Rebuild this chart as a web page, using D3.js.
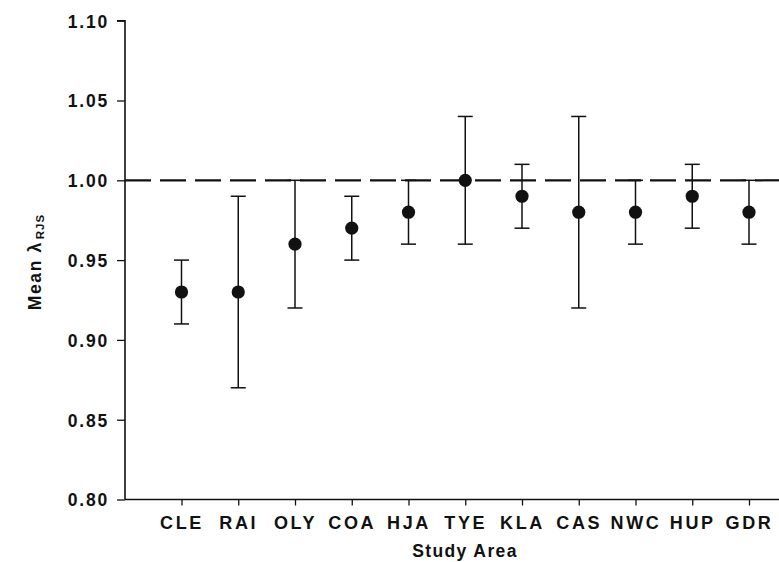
<!DOCTYPE html>
<html>
<head>
<meta charset="utf-8">
<script src="https://cdn.jsdelivr.net/npm/d3@7/dist/d3.min.js"></script>
<style>
  html, body { margin: 0; padding: 0; background: #fff; }
  svg { display: block; }
  text { font-family: "Liberation Sans", Arial, sans-serif; font-weight: bold; fill: #111; }
</style>
</head>
<body>
<svg id="chart" width="779" height="562"></svg>
<script>
// Study areas and mean lambda with lower / upper confidence limits
const areas = ["CLE", "RAI", "OLY", "COA", "HJA", "TYE", "KLA", "CAS", "NWC", "HUP", "GDR"];
const meanLambda = [0.93, 0.93, 0.96, 0.97, 0.98, 1.00, 0.99, 0.98, 0.98, 0.99, 0.98];
const lowerCI = [0.91, 0.87, 0.92, 0.95, 0.96, 0.96, 0.97, 0.92, 0.96, 0.97, 0.96];
const upperCI = [0.95, 0.99, 1.00, 0.99, 1.00, 1.04, 1.01, 1.04, 1.00, 1.01, 1.00];
const yTicks = [0.80, 0.85, 0.90, 0.95, 1.00, 1.05, 1.10];
const referenceLambda = 1.00;

const rows = areas.map((a, i) => ({ area: a, mean: meanLambda[i], lo: lowerCI[i], hi: upperCI[i] }));

const svg = d3.select("#chart");
const ink = "#111";

const axisX = 125, axisBottom = 499.5, axisTop = 20.7, rightEdge = 790;

const y = d3.scaleLinear().domain([0.80, 1.10]).range([axisBottom, axisTop]);
const x = d3.scalePoint().domain(areas).range([181.5, 749]);

// Y axis
const yAxis = svg.append("g")
  .attr("transform", `translate(${axisX},0)`)
  .call(d3.axisLeft(y).tickValues(yTicks).tickFormat(d3.format(".2f")).tickSize(8).tickPadding(8));
yAxis.select(".domain").attr("stroke", ink).attr("stroke-width", 1.6)
  .attr("d", `M-8,${axisTop}H0V${axisBottom}`);
yAxis.selectAll(".tick line").attr("stroke", ink).attr("stroke-width", 1.3);
yAxis.selectAll(".tick text")
  .attr("font-size", 17.5).attr("letter-spacing", 1.8)
  .attr("fill", ink).attr("dy", "0.36em");

// X axis
const xAxis = svg.append("g")
  .attr("transform", `translate(0,${axisBottom})`)
  .call(d3.axisBottom(x).tickSize(6).tickPadding(11));
xAxis.select(".domain").remove();
xAxis.append("line")
  .attr("x1", axisX).attr("x2", rightEdge)
  .attr("stroke", ink).attr("stroke-width", 1.6);
xAxis.selectAll(".tick line").attr("stroke", ink).attr("stroke-width", 1.3);
xAxis.selectAll(".tick text")
  .attr("font-size", 18).attr("letter-spacing", 2.6)
  .attr("fill", ink);

// Reference line at lambda = 1
svg.append("line")
  .attr("x1", axisX).attr("x2", rightEdge)
  .attr("y1", y(referenceLambda)).attr("y2", y(referenceLambda))
  .attr("stroke", ink).attr("stroke-width", 2.2)
  .attr("stroke-dasharray", "26 9");

// Error bars with caps
const capHalf = 7.5;
const bars = svg.append("g").attr("stroke", ink).attr("stroke-width", 1.5);
bars.selectAll("line.whisker").data(rows).join("line").attr("class", "whisker")
  .attr("x1", d => x(d.area)).attr("x2", d => x(d.area))
  .attr("y1", d => y(d.lo)).attr("y2", d => y(d.hi));
bars.selectAll("line.cap-hi").data(rows).join("line").attr("class", "cap-hi")
  .attr("x1", d => x(d.area) - capHalf).attr("x2", d => x(d.area) + capHalf)
  .attr("y1", d => y(d.hi)).attr("y2", d => y(d.hi));
bars.selectAll("line.cap-lo").data(rows).join("line").attr("class", "cap-lo")
  .attr("x1", d => x(d.area) - capHalf).attr("x2", d => x(d.area) + capHalf)
  .attr("y1", d => y(d.lo)).attr("y2", d => y(d.lo));

// Mean points
svg.append("g").selectAll("circle").data(rows).join("circle")
  .attr("cx", d => x(d.area)).attr("cy", d => y(d.mean))
  .attr("r", 6.6).attr("fill", ink);

// Axis titles
svg.append("text")
  .attr("x", 465).attr("y", 557)
  .attr("text-anchor", "middle").attr("font-size", 17.5).attr("letter-spacing", 1.4)
  .text("Study Area");

const yTitle = svg.append("text")
  .attr("transform", "translate(41,262) rotate(-90)")
  .attr("text-anchor", "middle").attr("font-size", 17.5).attr("letter-spacing", 1.6);
yTitle.append("tspan").text("Mean \u03BB");
yTitle.append("tspan").attr("dx", 2).attr("dy", 3).attr("font-size", 11.5).attr("letter-spacing", 1).text("RJS");
</script>
</body>
</html>
